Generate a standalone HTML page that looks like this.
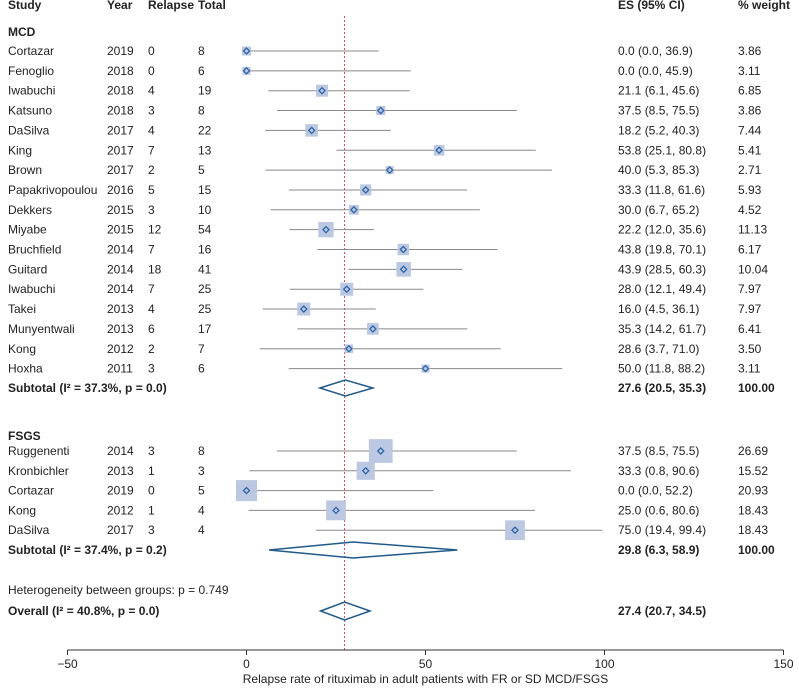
<!DOCTYPE html>
<html><head><meta charset="utf-8"><style>
body{margin:0;background:#fff;}
svg{display:block;font-family:"Liberation Sans",Arial,sans-serif;font-size:12px;}
</style></head><body>
<svg id="c" width="799" height="688"></svg>
<script>
const studies=["Cortazar","Fenoglio","Iwabuchi","Katsuno","DaSilva","King","Brown","Papakrivopoulou","Dekkers","Miyabe","Bruchfield","Guitard","Iwabuchi","Takei","Munyentwali","Kong","Hoxha","Ruggenenti","Kronbichler","Cortazar","Kong","DaSilva"];
const groups=["MCD","MCD","MCD","MCD","MCD","MCD","MCD","MCD","MCD","MCD","MCD","MCD","MCD","MCD","MCD","MCD","MCD","FSGS","FSGS","FSGS","FSGS","FSGS"];
const years=[2019,2018,2018,2018,2017,2017,2017,2016,2015,2015,2014,2014,2014,2013,2013,2012,2011,2014,2013,2019,2012,2017];
const relapse=[0,0,4,3,4,7,2,5,3,12,7,18,7,4,6,2,3,3,1,0,1,3];
const totals=[8,6,19,8,22,13,5,15,10,54,16,41,25,25,17,7,6,8,3,5,4,4];
const es=[0.0,0.0,21.1,37.5,18.2,53.8,40.0,33.3,30.0,22.2,43.8,43.9,28.0,16.0,35.3,28.6,50.0,37.5,33.3,0.0,25.0,75.0];
const lo=[0.0,0.0,6.1,8.5,5.2,25.1,5.3,11.8,6.7,12.0,19.8,28.5,12.1,4.5,14.2,3.7,11.8,8.5,0.8,0.0,0.6,19.4];
const hi=[36.9,45.9,45.6,75.5,40.3,80.8,85.3,61.6,65.2,35.6,70.1,60.3,49.4,36.1,61.7,71.0,88.2,75.5,90.6,52.2,80.6,99.4];
const weights=[3.86,3.11,6.85,3.86,7.44,5.41,2.71,5.93,4.52,11.13,6.17,10.04,7.97,7.97,6.41,3.50,3.11,26.69,15.52,20.93,18.43,18.43];
const subLabels=["Subtotal (I\u00b2 = 37.3%, p = 0.0)","Subtotal (I\u00b2 = 37.4%, p = 0.2)","Overall (I\u00b2 = 40.8%, p = 0.0)"];
const subES=[27.6,29.8,27.4];
const subLo=[20.5,6.3,20.7];
const subHi=[35.3,58.9,34.5];
const ticks=[-50,0,50,100,150];
const overallLine=27.4;

const svg=document.getElementById('c');
const NS='http://www.w3.org/2000/svg';
const x=v=>246.5+v*3.58;
function el(tag,attrs,text){const e=document.createElementNS(NS,tag);for(const k in attrs)e.setAttribute(k,attrs[k]);if(text!==undefined)e.textContent=text;svg.appendChild(e);return e;}
function txt(xx,yy,s,bold,name){const t=el('text',{x:xx,y:yy,fill:'#222','font-weight':bold?'bold':'normal'},s);

return t;}

// header
[["Study",8],["Year",107],["Relapse",148],["Total",198],["ES (95% CI)",618],["% weight",738]].forEach(h=>txt(h[1],9,h[0],true,'column-header'));

// row y positions
const rowY=[];
for(let i=0;i<17;i++)rowY.push(51+i*19.85);
for(let i=0;i<5;i++)rowY.push(451+i*19.8);
const subY=[388,550,611];

txt(8,36,"MCD",true,'group-label-mcd');
txt(8,440,"FSGS",true,'group-label-fsgs');
txt(8,594,"Heterogeneity between groups: p = 0.749",false,'heterogeneity-note');

// reference line
const rl=el('line',{x1:x(overallLine),x2:x(overallLine),y1:16,y2:650,stroke:'#d0405a','stroke-width':1,'stroke-dasharray':'2,2'});



studies.forEach((s,i)=>{
  const y=rowY[i];
  txt(8,y+4,s,false,'study-name');
  txt(107,y+4,String(years[i]),false,'study-year');
  txt(148,y+4,String(relapse[i]),false,'study-relapse');
  txt(198,y+4,String(totals[i]),false,'study-total');
  txt(618,y+4,es[i].toFixed(1)+" ("+lo[i].toFixed(1)+", "+hi[i].toFixed(1)+")",false,'study-es');
  txt(738,y+4,weights[i].toFixed(2),false,'study-weight');
  const ci=el('line',{x1:x(lo[i]),x2:x(hi[i]),y1:y,y2:y,stroke:'#888','stroke-width':1});
  
  
  const sz=Math.max(8,4.6*Math.sqrt(weights[i]));
  const b=el('rect',{x:x(es[i])-sz/2,y:y-sz/2,width:sz,height:sz,fill:'#bcc8e2'});
  
  
  const d=3;
  const p=el('polygon',{points:`${x(es[i])-d},${y} ${x(es[i])},${y-d} ${x(es[i])+d},${y} ${x(es[i])},${y+d}`,fill:'none',stroke:'#2a64a8','stroke-width':1.3});
  
  
});

subLabels.forEach((s,i)=>{
  const y=subY[i];
  txt(8,y+4,s,true,'subtotal-label');
  txt(618,y+4,subES[i].toFixed(1)+" ("+subLo[i].toFixed(1)+", "+subHi[i].toFixed(1)+")",true,'subtotal-es');
  if(i<2)txt(738,y+4,"100.00",true,'subtotal-weight');
  const h=i==2?9:8;
  const p=el('polygon',{points:`${x(subLo[i])},${y} ${x(subES[i])},${y-h} ${x(subHi[i])},${y} ${x(subES[i])},${y+h}`,fill:'none',stroke:'#1f5a8a','stroke-width':1.5});
  
  
});

// axis
const ax=el('line',{x1:x(-50),x2:x(150),y1:650,y2:650,stroke:'#333','stroke-width':1});


ticks.forEach(t=>{
  const tl=el('line',{x1:x(t),x2:x(t),y1:650,y2:655,stroke:'#333'});
  
  
  const lb=el('text',{x:x(t),y:668,'text-anchor':'middle',fill:'#222'},t<0?"\u2212"+(-t):String(t));
  
  
});
const ttl=el('text',{x:x(50),y:683,'text-anchor':'middle',fill:'#222'},"Relapse rate of rituximab in adult patients with FR or SD MCD/FSGS");


</script>
</body></html>
